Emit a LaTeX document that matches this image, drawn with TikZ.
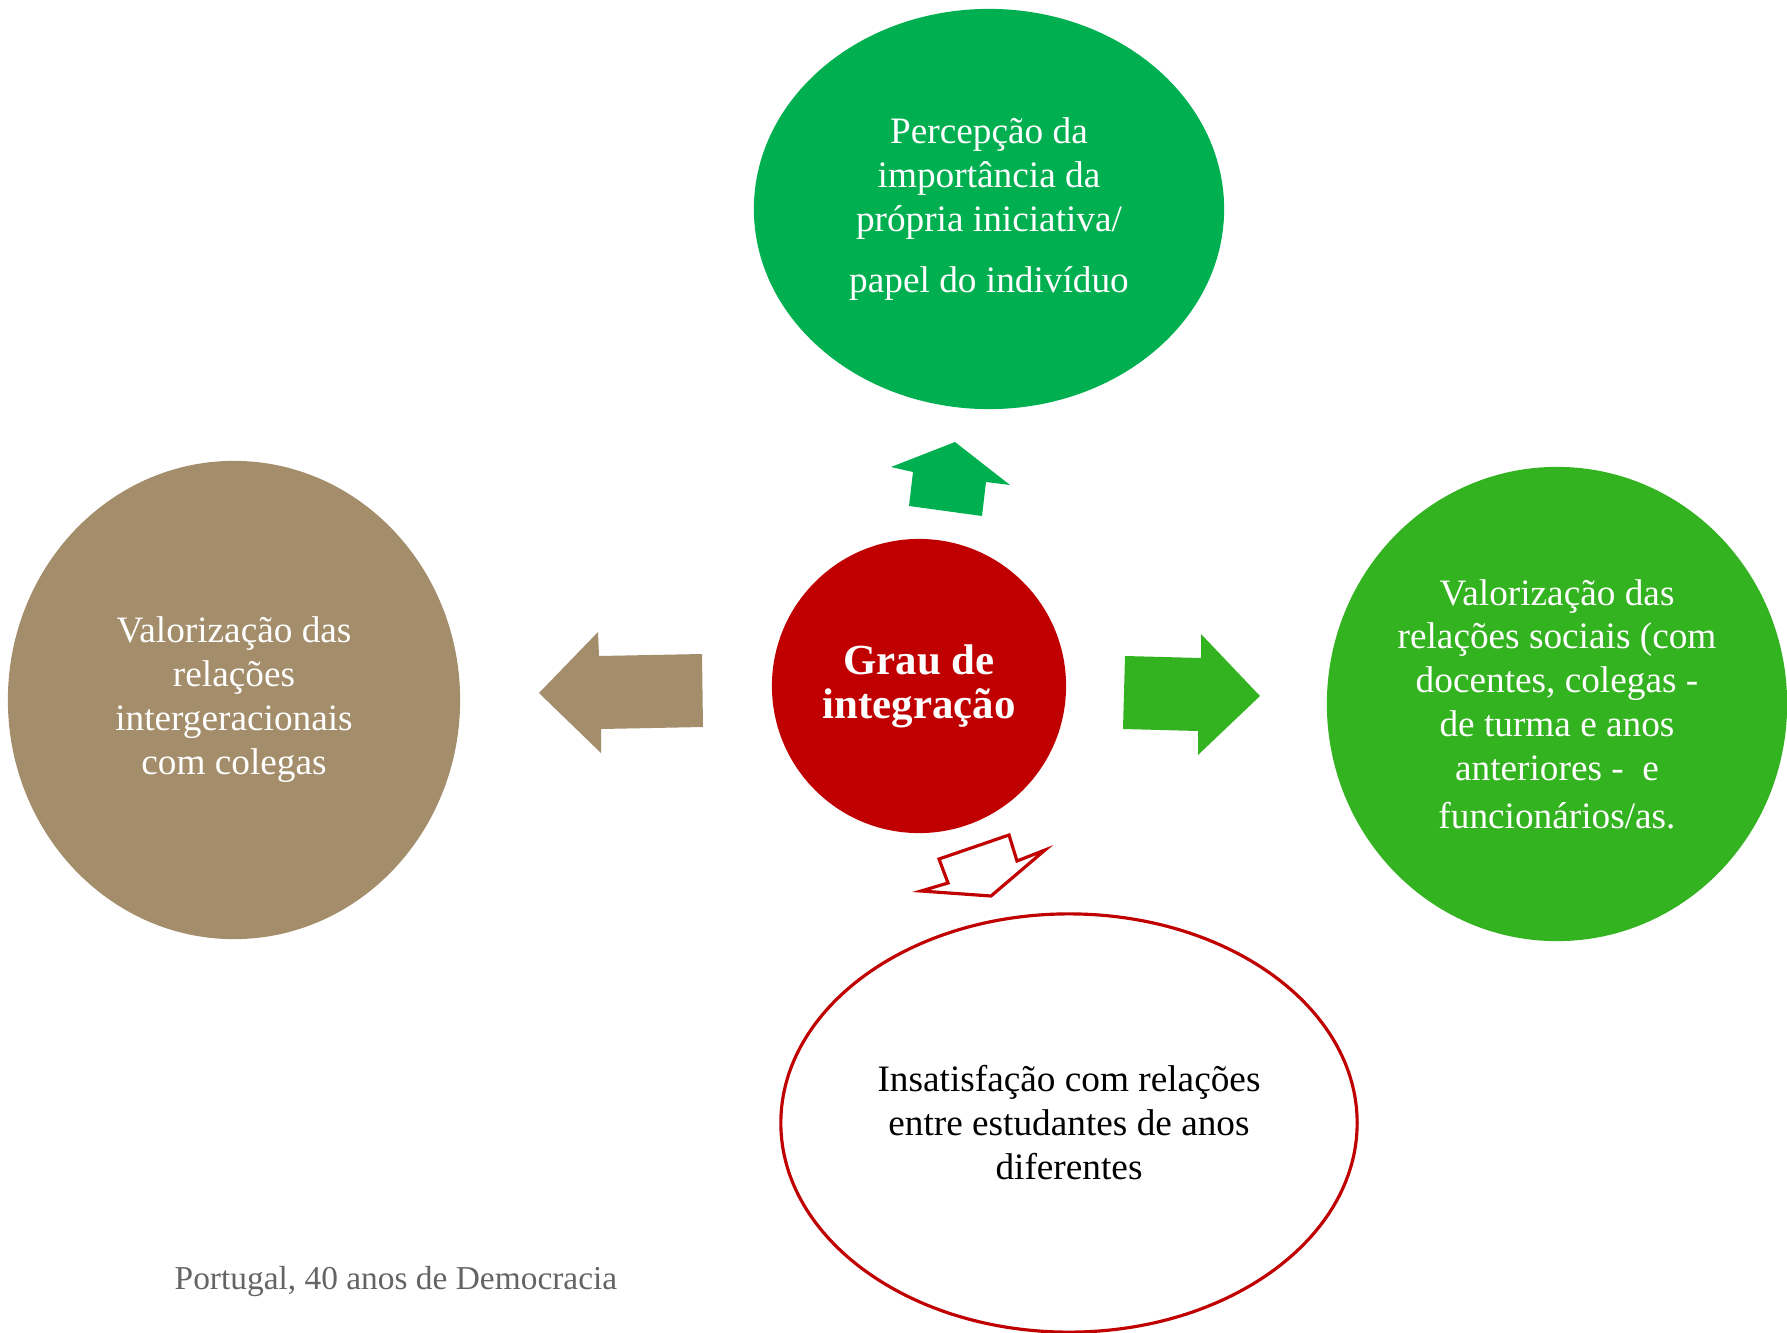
\documentclass[tikz,border=0pt]{standalone}
\usepackage{fontspec}
\setmainfont{Liberation Serif}
\usepackage{xcolor}
\usepackage{tikz}
\usetikzlibrary{shapes.geometric, positioning}
\definecolor{topgreen}{RGB}{0,176,80}
\definecolor{sidegreen}{RGB}{51,179,31}
\definecolor{darkred}{RGB}{192,0,0}
\definecolor{tan}{RGB}{163,141,106}
\definecolor{footgray}{RGB}{100,100,100}
\tikzstyle{bubble} = [ellipse, inner sep = 0pt, text centered, align = center,
text = white, font = \fontsize{10.6}{12.5}\selectfont]

\begin{document}
\begin{tikzpicture}[x=0.01cm,y=-0.01cm]

\useasboundingbox (0,0) rectangle (1787,1333);

% The bubbles
\node (percepcao) at (989,209) [bubble, fill=topgreen, minimum width=4.70cm, minimum height=4.00cm]
{Percepção da\\importância da\\própria iniciativa/\\[5pt]papel do indivíduo};
\node (intergeracional) at (234,700) [bubble, fill=tan, minimum width=4.52cm, minimum height=4.78cm]
{Valorização das\\relações\\intergeracionais\\com colegas};
\node (grau) at (919,686) [bubble, circle, fill=darkred, minimum size=2.94cm, font=\fontsize{12.2}{12.5}\selectfont\bfseries]
{Grau de\\integração};
\node (sociais) at (1557,704) [bubble, fill=sidegreen, minimum width=4.60cm, minimum height=4.74cm]
{Valorização das\\relações sociais (com\\docentes, colegas -\\de turma e anos\\anteriores -~ e\\[1pt]funcionários/as.};
\node (insatisfacao) at (1069,1123) [bubble, draw=darkred, line width=0.9pt, fill=white, text=black, minimum width=5.76cm, minimum height=4.18cm]
{Insatisfação com relações\\entre estudantes de anos\\diferentes};

% Block arrows
\fill[topgreen] (955,442) -- (1010,485) -- (986,482) -- (982,516) -- (909,506) -- (913,472) -- (891,467) -- cycle;
\fill[tan] (539,693) -- (598,632) -- (599,656) -- (702,654) -- (703,727) -- (601,729) -- (601,753) -- cycle;
\fill[sidegreen] (1260,696) -- (1201,634) -- (1201,658) -- (1125,656) -- (1123,729) -- (1198,731) -- (1198,755) -- cycle;
\draw[darkred, line width=0.9pt, line join=miter] (991,896) -- (1045,850) -- (1017,861) -- (1009,835) -- (939,859) -- (948,883) -- (921,891) -- cycle;

% Footer
\node (footer) at (174,1281) [anchor=west, inner sep=0pt, text=footgray, font=\fontsize{9.5}{12}\selectfont] {Portugal, 40 anos de Democracia};

\end{tikzpicture}
\end{document}
